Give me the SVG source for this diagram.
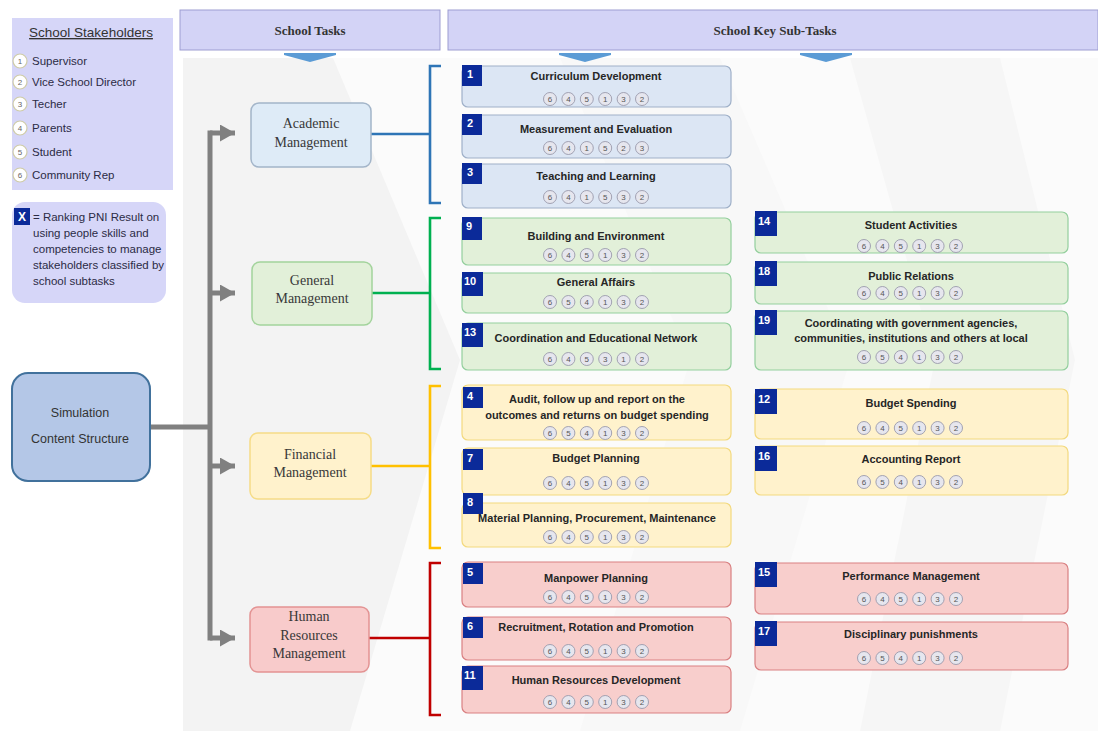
<svg xmlns="http://www.w3.org/2000/svg" xmlns:xlink="http://www.w3.org/1999/xlink" width="1098" height="731" viewBox="0 0 1098 731">
<defs>
<style>
.hdr{fill:#d3d3f6;stroke:#9d9dd2;stroke-width:1}
.ht{font-family:"Liberation Serif",serif;font-weight:bold;font-size:13px;fill:#333;text-anchor:middle}
.tk{font-family:"Liberation Serif",serif;font-size:14px;fill:#383838;text-anchor:middle}
.st{font-family:"Liberation Sans",Arial,sans-serif;font-weight:bold;font-size:11px;fill:#262626;text-anchor:middle}
.bd{fill:#0b2a99}
.bn{font-family:"Liberation Sans",Arial,sans-serif;font-weight:bold;font-size:11px;fill:#fff}
.cd{font-family:"Liberation Sans",Arial,sans-serif;font-size:8px;fill:#555;text-anchor:middle}
.cc{fill:#e6e6ee;stroke:#9a9aac;stroke-width:0.9}
.lc{fill:#fff;stroke:#cfcca8;stroke-width:1.2}
.ld{font-family:"Liberation Sans",Arial,sans-serif;font-size:8px;fill:#666;text-anchor:middle}
.lt{font-family:"Liberation Sans",Arial,sans-serif;font-size:11.5px;fill:#2b2b45}
.blue{fill:#dce6f4;stroke:#9fb0c8;stroke-width:1.2}
.green{fill:#e2f0d9;stroke:#93cf9d;stroke-width:1.2}
.yellow{fill:#fff2cc;stroke:#f3d97e;stroke-width:1.2}
.red{fill:#f8cecc;stroke:#d98082;stroke-width:1.2}
.main{fill:none;stroke:#808080;stroke-width:5}
.br{fill:none;stroke-width:2.6}
.chev{fill:#5b9bd5}
</style>
<g id="r6">
<circle class="cc" cx="-46" cy="0" r="6.5"/>
<circle class="cc" cx="-27.6" cy="0" r="6.5"/>
<circle class="cc" cx="-9.2" cy="0" r="6.5"/>
<circle class="cc" cx="9.2" cy="0" r="6.5"/>
<circle class="cc" cx="27.6" cy="0" r="6.5"/>
<circle class="cc" cx="46" cy="0" r="6.5"/>
</g>
<marker id="ah" markerUnits="userSpaceOnUse" markerWidth="15" markerHeight="17" refX="15" refY="8.5" orient="auto">
<path d="M0,0 L15,8.5 L0,17 z" fill="#808080"/>
</marker>
</defs>

<!-- background -->
<rect x="0" y="0" width="1098" height="731" fill="#ffffff"/>
<rect x="183" y="58" width="915" height="673" fill="#fbfbfb"/>
<polygon points="183,58 333,58 460,360 350,731 183,731" fill="#f3f3f3"/>
<polygon points="560,58 720,58 850,360 740,731 580,731 690,360" fill="#f8f8f8"/>
<polygon points="850,58 1000,58 1075,360 1000,731 860,731 935,360" fill="#f6f6f6"/>

<!-- legend -->
<g id="legend-stakeholders">
<rect x="12" y="18" width="161" height="172" fill="#d6d6f8"/>
<text x="91" y="37" font-family="'Liberation Sans',Arial,sans-serif" font-size="13.5" fill="#333" text-anchor="middle" text-decoration="underline">School Stakeholders</text>
<circle class="lc" cx="20" cy="61" r="7"/><text class="ld" x="20" y="64">1</text><text class="lt" x="32" y="65">Supervisor</text>
<circle class="lc" cx="20" cy="82" r="7"/><text class="ld" x="20" y="85">2</text><text class="lt" x="32" y="86">Vice School Director</text>
<circle class="lc" cx="20" cy="104" r="7"/><text class="ld" x="20" y="107">3</text><text class="lt" x="32" y="108">Techer</text>
<circle class="lc" cx="20" cy="128" r="7"/><text class="ld" x="20" y="131">4</text><text class="lt" x="32" y="132">Parents</text>
<circle class="lc" cx="20" cy="152" r="7"/><text class="ld" x="20" y="155">5</text><text class="lt" x="32" y="156">Student</text>
<circle class="lc" cx="20" cy="175" r="7"/><text class="ld" x="20" y="178">6</text><text class="lt" x="32" y="179">Community Rep</text>
</g>
<g id="legend-ranking">
<rect x="12" y="202" width="154" height="101" rx="13" fill="#d6d6f8"/>
<rect x="14" y="208" width="16" height="17" class="bd"/>
<text x="22" y="221" font-family="'Liberation Sans',Arial,sans-serif" font-weight="bold" font-size="12" fill="#fff" text-anchor="middle">X</text>
<text class="lt" x="33" y="221">= Ranking PNI Result on</text>
<text class="lt" x="33" y="237">using people skills and</text>
<text class="lt" x="33" y="253">competencies to manage</text>
<text class="lt" x="33" y="269">stakeholders classified by</text>
<text class="lt" x="33" y="285">school subtasks</text>
</g>

<!-- headers -->
<g id="hdr-tasks">
<rect class="hdr" x="180" y="10" width="260" height="40"/>
<text class="ht" x="310" y="35">School Tasks</text>
<polygon class="chev" points="284,53 336,53 336,55 310,62 284,55"/>
</g>
<g id="hdr-subtasks">
<rect class="hdr" x="448" y="10" width="650" height="40"/>
<text class="ht" x="775" y="35">School Key Sub-Tasks</text>
<polygon class="chev" points="559,53 611,53 611,55 585,62 559,55"/>
<polygon class="chev" points="800,53 852,53 852,55 826,62 800,55"/>
</g>

<!-- connectors -->
<g id="connectors">
<path class="main" d="M150 427 H210"/>
<path class="main" d="M210 133 V638" stroke-linecap="square"/>
<path class="main" d="M210 133 H235" marker-end="url(#ah)"/>
<path class="main" d="M210 293 H235" marker-end="url(#ah)"/>
<path class="main" d="M210 466 H235" marker-end="url(#ah)"/>
<path class="main" d="M210 638 H235" marker-end="url(#ah)"/>
<path class="br" stroke="#2e75b6" d="M370 134 H430 M441 66 H430 V203 H441"/>
<path class="br" stroke="#00b050" d="M372 293 H430 M441 218 H430 V369 H441"/>
<path class="br" stroke="#ffc000" d="M371 466 H430 M441 386 H430 V548 H441"/>
<path class="br" stroke="#c00000" d="M369 638 H430 M441 563 H430 V715 H441"/>
</g>

<!-- root -->
<g id="simulation">
<rect x="12" y="373" width="138" height="108" rx="16" fill="#b4c7e7" stroke="#41719c" stroke-width="2"/>
<text x="80" y="417" font-family="'Liberation Sans',Arial,sans-serif" font-size="12.5" fill="#333" text-anchor="middle">Simulation</text>
<text x="80" y="443" font-family="'Liberation Sans',Arial,sans-serif" font-size="12.5" fill="#333" text-anchor="middle">Content Structure</text>
</g>

<!-- tasks -->
<g id="task-academic">
<rect x="251" y="103" width="120" height="64" rx="8" fill="#deebf7" stroke="#a3b5c9" stroke-width="1.5"/>
<text class="tk" x="311" y="128">Academic</text><text class="tk" x="311" y="147">Management</text>
</g>
<g id="task-general">
<rect x="252" y="262" width="120" height="63" rx="8" fill="#e2f0d9" stroke="#a3d39c" stroke-width="1.5"/>
<text class="tk" x="312" y="285">General</text><text class="tk" x="312" y="303">Management</text>
</g>
<g id="task-financial">
<rect x="250" y="433" width="121" height="66" rx="8" fill="#fff2cc" stroke="#f6dc86" stroke-width="1.5"/>
<text class="tk" x="310" y="459">Financial</text><text class="tk" x="310" y="477">Management</text>
</g>
<g id="task-hr">
<rect x="250" y="607" width="119" height="65" rx="8" fill="#f8cbcb" stroke="#e39393" stroke-width="1.5"/>
<text class="tk" x="309" y="621">Human</text><text class="tk" x="309" y="640">Resources</text><text class="tk" x="309" y="658">Management</text>
</g>

<!-- academic subtasks -->
<g id="sub-1">
<rect class="blue" x="462" y="66" width="269" height="41" rx="6"/>
<rect class="bd" x="462" y="65" width="20" height="21"/><text class="bn" x="467" y="78">1</text>
<text class="st" x="596" y="80">Curriculum Development</text>
<g transform="translate(596,99)"><use href="#r6"/><text class="cd" x="-46 -27.6 -9.2 9.2 27.6 46" y="2.8">645132</text></g>
</g>
<g id="sub-2">
<rect class="blue" x="462" y="115" width="269" height="43" rx="6"/>
<rect class="bd" x="462" y="114" width="20" height="21"/><text class="bn" x="467" y="127">2</text>
<text class="st" x="596" y="133">Measurement and Evaluation</text>
<g transform="translate(596,148)"><use href="#r6"/><text class="cd" x="-46 -27.6 -9.2 9.2 27.6 46" y="2.8">641523</text></g>
</g>
<g id="sub-3">
<rect class="blue" x="462" y="164" width="269" height="44" rx="6"/>
<rect class="bd" x="462" y="163" width="20" height="21"/><text class="bn" x="467" y="176">3</text>
<text class="st" x="596" y="180">Teaching and Learning</text>
<g transform="translate(596,197)"><use href="#r6"/><text class="cd" x="-46 -27.6 -9.2 9.2 27.6 46" y="2.8">641532</text></g>
</g>

<!-- general subtasks -->
<g id="sub-9">
<rect class="green" x="462" y="218" width="269" height="47" rx="6"/>
<rect class="bd" x="462" y="217" width="20" height="23"/><text class="bn" x="466" y="230">9</text>
<text class="st" x="596" y="240">Building and Environment</text>
<g transform="translate(596,255)"><use href="#r6"/><text class="cd" x="-46 -27.6 -9.2 9.2 27.6 46" y="2.8">645132</text></g>
</g>
<g id="sub-10">
<rect class="green" x="462" y="273" width="269" height="40" rx="6"/>
<rect class="bd" x="462" y="272" width="21" height="24"/><text class="bn" x="464" y="285">10</text>
<text class="st" x="596" y="286">General Affairs</text>
<g transform="translate(596,302)"><use href="#r6"/><text class="cd" x="-46 -27.6 -9.2 9.2 27.6 46" y="2.8">654132</text></g>
</g>
<g id="sub-13">
<rect class="green" x="462" y="323" width="269" height="47" rx="6"/>
<rect class="bd" x="462" y="323" width="21" height="24"/><text class="bn" x="464" y="336">13</text>
<text class="st" x="596" y="342">Coordination and Educational Network</text>
<g transform="translate(596,359)"><use href="#r6"/><text class="cd" x="-46 -27.6 -9.2 9.2 27.6 46" y="2.8">645312</text></g>
</g>
<g id="sub-14">
<rect class="green" x="755" y="212" width="313" height="41" rx="6"/>
<rect class="bd" x="755" y="211" width="22" height="25"/><text class="bn" x="758" y="225">14</text>
<text class="st" x="911" y="229">Student Activities</text>
<g transform="translate(910,246)"><use href="#r6"/><text class="cd" x="-46 -27.6 -9.2 9.2 27.6 46" y="2.8">645132</text></g>
</g>
<g id="sub-18">
<rect class="green" x="755" y="262" width="313" height="42" rx="6"/>
<rect class="bd" x="755" y="261" width="22" height="25"/><text class="bn" x="758" y="275">18</text>
<text class="st" x="911" y="280">Public Relations</text>
<g transform="translate(910,293)"><use href="#r6"/><text class="cd" x="-46 -27.6 -9.2 9.2 27.6 46" y="2.8">645132</text></g>
</g>
<g id="sub-19">
<rect class="green" x="755" y="311" width="313" height="59" rx="6"/>
<rect class="bd" x="755" y="310" width="22" height="25"/><text class="bn" x="758" y="324">19</text>
<text class="st" x="911" y="327">Coordinating with government agencies,</text>
<text class="st" x="911" y="342">communities, institutions and others at local</text>
<g transform="translate(910,357)"><use href="#r6"/><text class="cd" x="-46 -27.6 -9.2 9.2 27.6 46" y="2.8">654132</text></g>
</g>

<!-- financial subtasks -->
<g id="sub-4">
<rect class="yellow" x="462" y="385" width="269" height="55" rx="6"/>
<rect class="bd" x="463" y="387" width="20" height="21"/><text class="bn" x="467" y="400">4</text>
<text class="st" x="597" y="403">Audit, follow up and report on the</text>
<text class="st" x="597" y="419">outcomes and returns on budget spending</text>
<g transform="translate(596,433)"><use href="#r6"/><text class="cd" x="-46 -27.6 -9.2 9.2 27.6 46" y="2.8">654132</text></g>
</g>
<g id="sub-7">
<rect class="yellow" x="462" y="448" width="269" height="47" rx="6"/>
<rect class="bd" x="463" y="449" width="20" height="21"/><text class="bn" x="467" y="462">7</text>
<text class="st" x="596" y="462">Budget Planning</text>
<g transform="translate(596,483)"><use href="#r6"/><text class="cd" x="-46 -27.6 -9.2 9.2 27.6 46" y="2.8">645132</text></g>
</g>
<g id="sub-8">
<rect class="yellow" x="462" y="503" width="269" height="44" rx="6"/>
<rect class="bd" x="463" y="493" width="20" height="21"/><text class="bn" x="467" y="506">8</text>
<text class="st" x="597" y="522">Material Planning, Procurement, Maintenance</text>
<g transform="translate(596,537)"><use href="#r6"/><text class="cd" x="-46 -27.6 -9.2 9.2 27.6 46" y="2.8">645132</text></g>
</g>
<g id="sub-12">
<rect class="yellow" x="755" y="389" width="313" height="50" rx="6"/>
<rect class="bd" x="755" y="389" width="22" height="25"/><text class="bn" x="758" y="403">12</text>
<text class="st" x="911" y="407">Budget Spending</text>
<g transform="translate(910,428)"><use href="#r6"/><text class="cd" x="-46 -27.6 -9.2 9.2 27.6 46" y="2.8">645132</text></g>
</g>
<g id="sub-16">
<rect class="yellow" x="755" y="446" width="313" height="49" rx="6"/>
<rect class="bd" x="755" y="446" width="22" height="25"/><text class="bn" x="758" y="460">16</text>
<text class="st" x="911" y="463">Accounting Report</text>
<g transform="translate(910,482)"><use href="#r6"/><text class="cd" x="-46 -27.6 -9.2 9.2 27.6 46" y="2.8">654132</text></g>
</g>

<!-- HR subtasks -->
<g id="sub-5">
<rect class="red" x="462" y="562" width="269" height="45" rx="6"/>
<rect class="bd" x="463" y="563" width="20" height="21"/><text class="bn" x="467" y="576">5</text>
<text class="st" x="596" y="582">Manpower Planning</text>
<g transform="translate(596,597)"><use href="#r6"/><text class="cd" x="-46 -27.6 -9.2 9.2 27.6 46" y="2.8">645132</text></g>
</g>
<g id="sub-6">
<rect class="red" x="462" y="617" width="269" height="43" rx="6"/>
<rect class="bd" x="463" y="617" width="20" height="21"/><text class="bn" x="467" y="630">6</text>
<text class="st" x="596" y="631">Recruitment, Rotation and Promotion</text>
<g transform="translate(596,651)"><use href="#r6"/><text class="cd" x="-46 -27.6 -9.2 9.2 27.6 46" y="2.8">645132</text></g>
</g>
<g id="sub-11">
<rect class="red" x="462" y="666" width="269" height="47" rx="6"/>
<rect class="bd" x="462" y="666" width="21" height="24"/><text class="bn" x="464" y="679">11</text>
<text class="st" x="596" y="684">Human Resources Development</text>
<g transform="translate(596,702)"><use href="#r6"/><text class="cd" x="-46 -27.6 -9.2 9.2 27.6 46" y="2.8">645132</text></g>
</g>
<g id="sub-15">
<rect class="red" x="755" y="563" width="313" height="51" rx="6"/>
<rect class="bd" x="755" y="562" width="22" height="25"/><text class="bn" x="758" y="576">15</text>
<text class="st" x="911" y="580">Performance Management</text>
<g transform="translate(910,599)"><use href="#r6"/><text class="cd" x="-46 -27.6 -9.2 9.2 27.6 46" y="2.8">645132</text></g>
</g>
<g id="sub-17">
<rect class="red" x="755" y="622" width="313" height="48" rx="6"/>
<rect class="bd" x="755" y="621" width="22" height="25"/><text class="bn" x="758" y="635">17</text>
<text class="st" x="911" y="638">Disciplinary punishments</text>
<g transform="translate(910,658)"><use href="#r6"/><text class="cd" x="-46 -27.6 -9.2 9.2 27.6 46" y="2.8">654132</text></g>
</g>
</svg>
